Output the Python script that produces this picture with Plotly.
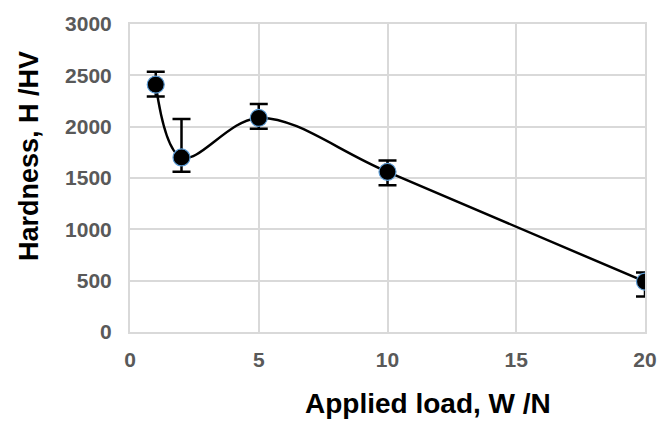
import plotly.graph_objects as go

load_N = [1, 2, 5, 10, 20]
hardness_HV = [2410, 1700, 2085, 1560, 490]
err_plus = [125, 375, 135, 110, 90]
err_minus = [115, 140, 105, 130, 145]

x_ticks = [0, 5, 10, 15, 20]
y_ticks = [0, 500, 1000, 1500, 2000, 2500, 3000]

fig = go.Figure()
fig.add_trace(go.Scatter(
    x=load_N, y=hardness_HV,
    mode="lines+markers",
    line=dict(color="black", width=2.5, shape="spline", smoothing=1.0),
    marker=dict(color="black", size=17, line=dict(color="#5b9bd5", width=1.2)),
    error_y=dict(type="data", symmetric=False, array=err_plus, arrayminus=err_minus,
                 color="black", thickness=2.5, width=9),
    showlegend=False,
))

grid = "#d9d9d9"
tickfont = dict(family="Liberation Sans, Arial", size=21, color="#595959", weight="bold")
fig.update_layout(
    width=669, height=425,
    margin=dict(l=130, r=12, t=23, b=93),
    paper_bgcolor="white", plot_bgcolor="white",
    xaxis=dict(range=[0, 20], tickvals=x_ticks, showgrid=True, gridcolor=grid, gridwidth=2,
               zeroline=False, showline=True, linecolor=grid, linewidth=2, mirror=True,
               tickfont=tickfont, ticks="", ticklabelstandoff=8),
    yaxis=dict(range=[0, 3000], tickvals=y_ticks, showgrid=True, gridcolor=grid, gridwidth=2,
               zeroline=False, showline=True, linecolor=grid, linewidth=2, mirror=True,
               tickfont=tickfont, ticks="", ticklabelstandoff=12),
    annotations=[
        dict(text="<b>Applied load, W /N</b>", xref="paper", yref="paper",
             x=0.578, y=-0.233, xanchor="center", yanchor="middle", showarrow=False,
             font=dict(family="Liberation Sans, Arial", size=28, color="black")),
        dict(text="<b>Hardness, H /HV</b>", xref="paper", yref="paper",
             x=-0.195, y=0.57, xanchor="center", yanchor="middle", textangle=-90, showarrow=False,
             font=dict(family="Liberation Sans, Arial", size=27, color="black")),
    ],
)

fig.write_html("out.html")
